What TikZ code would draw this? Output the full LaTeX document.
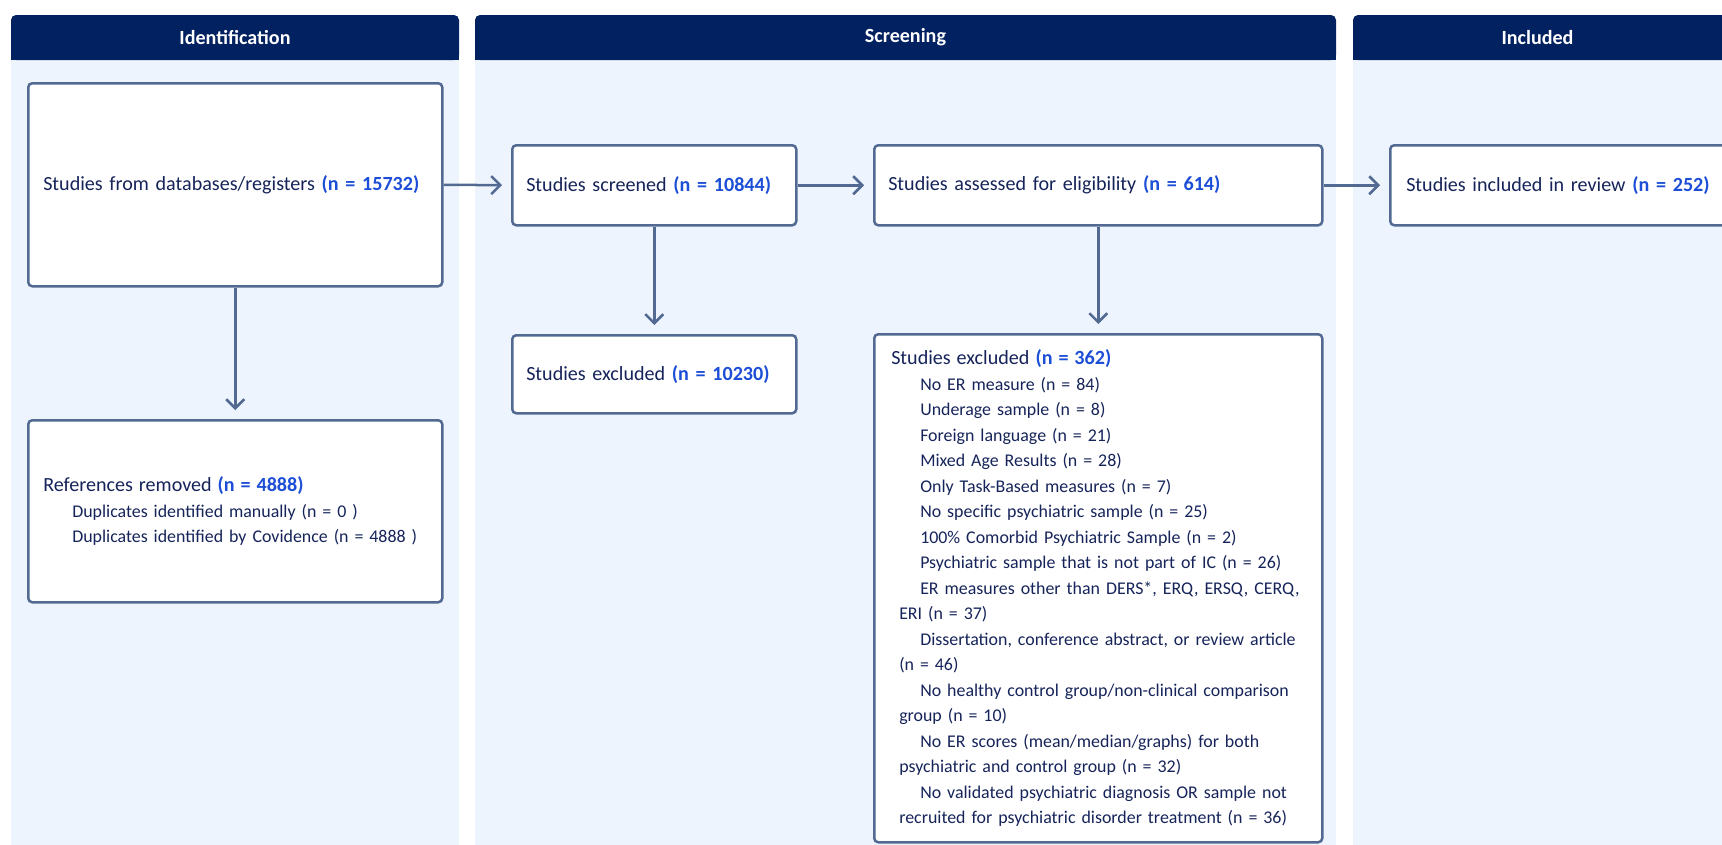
\documentclass[tikz,border=0pt]{standalone}
\usepackage{fontspec}
\setmainfont{Carlito}
\usetikzlibrary{arrows.meta}
\definecolor{navy}{RGB}{2,33,96}
\definecolor{panel}{RGB}{237,244,254}
\definecolor{bordc}{RGB}{82,106,146}
\definecolor{txt}{RGB}{22,36,90}
\definecolor{nblue}{RGB}{28,78,215}
\newcommand\fbig{\fontsize{20.1}{25.5}\selectfont}
\newcommand\fsmall{\fontsize{17.9}{25.5}\selectfont}
\newcommand\nv[1]{\textbf{\color{nblue}#1}}
\newcommand\li[2]{\mbox{\hspace*{#1pt}#2}}
\tikzset{
  hdrtext/.style={text=white, font=\fbig\bfseries, inner sep=0pt},
  box/.style={draw=bordc, line width=2.5pt, fill=white, rounded corners=4pt,
    anchor=north west, align=left, inner ysep=0pt, text=txt, font=\fbig},
  arr/.style={draw=bordc, line width=2.5pt, -{Straight Barb[length=9pt,width=18pt]}, shorten >=9pt},
}
\begin{document}
\begin{tikzpicture}[x=1pt,y=-1pt]
\useasboundingbox (0,0) rectangle (1722,844);
% panels
\foreach \a/\b in {11/459, 475/1336, 1353/1780}{
  \fill[panel] (\a,58) rectangle (\b,860);
  \fill[navy] (\a,38) rectangle (\b,60);
  \fill[navy, rounded corners=5pt] (\a,15) rectangle (\b,60);
}
\node[hdrtext] (hid) at (235,37.5) {Identification};
\node[hdrtext] (hsc) at (905.5,37.5) {Screening};
\node[hdrtext] (hin) at (1537.5,37.5) {Included};
% boxes
\node[box, minimum width=414pt, minimum height=203pt, inner xsep=15pt, text width=384pt] (box1) at (27,82)
  {Studies from databases/registers \nv{(n = 15732)}};
\node[box, minimum width=414pt, minimum height=182pt, inner xsep=15pt, text width=384pt, font=\fsmall] (refs) at (27,419)
  {{\fbig References removed \nv{(n = 4888)}}\\
   \li{29}{Duplicates identified manually (n = 0 )}\\
   \li{29}{Duplicates identified by Covidence (n = 4888 )}};
\node[box, minimum width=284pt, minimum height=80pt, inner xsep=14pt, text width=256pt] (scr) at (511,144)
  {Studies screened \nv{(n = 10844)}};
\node[box, minimum width=284pt, minimum height=78pt, inner xsep=14pt, text width=256pt] (ex1) at (511,334)
  {Studies excluded \nv{(n = 10230)}};
\node[box, minimum width=448pt, minimum height=80pt, inner xsep=14pt, text width=420pt] (ass) at (873,144)
  {Studies assessed for eligibility \nv{(n = 614)}};
\node[box, minimum width=448pt, minimum height=508pt, inner xsep=17pt, text width=414pt, font=\fsmall] (ex2) at (873,333)
  {{\fbig Studies excluded \nv{(n = 362)}}\\
   \li{29}{No ER measure (n = 84)}\\
   \li{29}{Underage sample (n = 8)}\\
   \li{29}{Foreign language (n = 21)}\\
   \li{29}{Mixed Age Results (n = 28)}\\
   \li{29}{Only Task-Based measures (n = 7)}\\
   \li{29}{No specific psychiatric sample (n = 25)}\\
   \li{29}{100\% Comorbid Psychiatric Sample (n = 2)}\\
   \li{29}{Psychiatric sample that is not part of IC (n = 26)}\\
   \li{29}{ER measures other than DERS*, ERQ, ERSQ, CERQ,}\\
   \li{8}{ERI (n = 37)}\\
   \li{29}{Dissertation, conference abstract, or review article}\\
   \li{8}{(n = 46)}\\
   \li{29}{No healthy control group/non-clinical comparison}\\
   \li{8}{group (n = 10)}\\
   \li{29}{No ER scores (mean/median/graphs) for both}\\
   \li{8}{psychiatric and control group (n = 32)}\\
   \li{29}{No validated psychiatric diagnosis OR sample not}\\
   \li{8}{recruited for psychiatric disorder treatment (n = 36)}};
\node[box, minimum width=420pt, minimum height=80pt, inner xsep=16pt, text width=388pt] (inc) at (1389,144)
  {Studies included in review \nv{(n = 252)}};
% connectors
\draw[arr] (box1.east) -- (scr.west);
\draw[arr] (scr.east) -- (ass.west);
\draw[arr] (ass.east) -- (inc.west);
\draw[arr] (box1.south) -- (refs.north);
\draw[arr] (scr.south) -- (ex1.north);
\draw[arr] (ass.south) -- (ex2.north);
\end{tikzpicture}
\end{document}
